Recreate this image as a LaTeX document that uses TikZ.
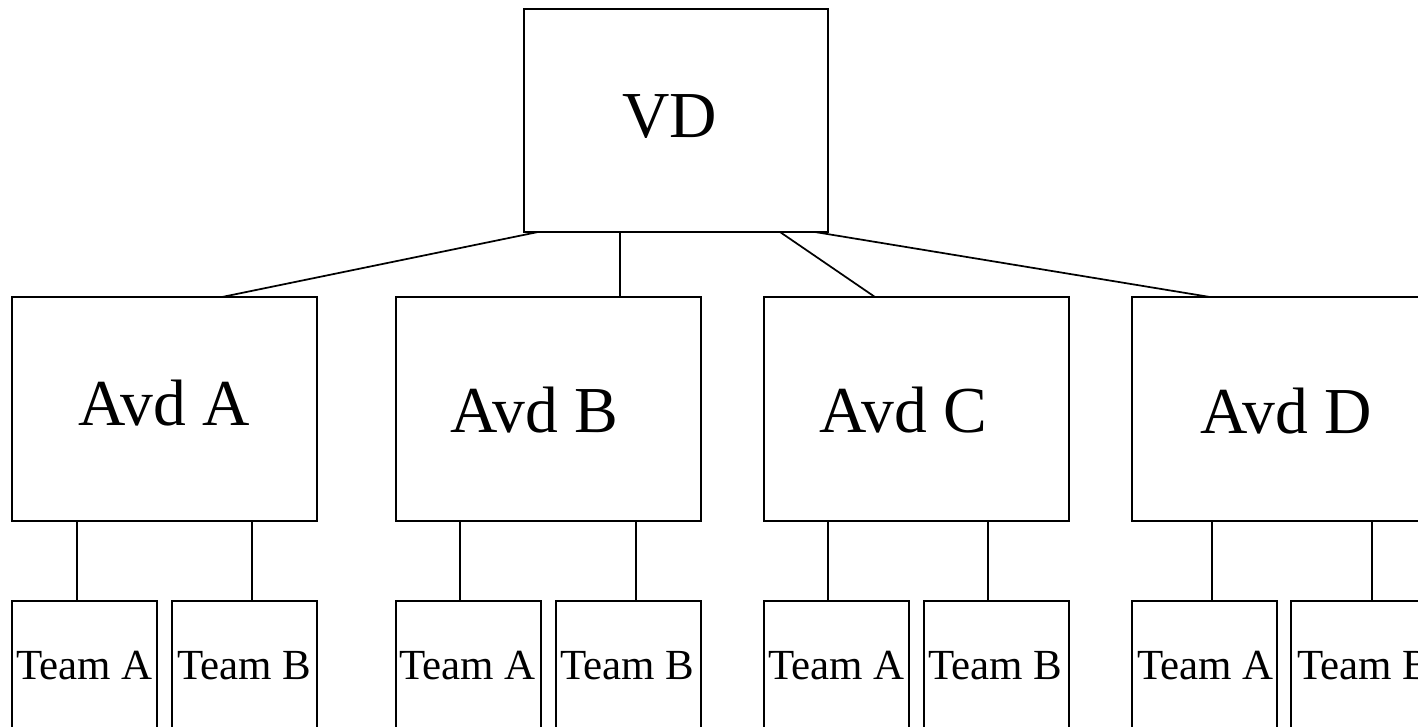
\documentclass[tikz,border=0pt]{standalone}
\usepackage{fontspec}
\setmainfont{Liberation Serif}
\usetikzlibrary{calc}

\tikzset{
  unit/.style={draw, line width=1.3pt, rectangle, inner sep=0pt, outer sep=0pt, anchor=north west},
  topbox/.style={unit, minimum width=228pt, minimum height=167.25pt},
  deptbox/.style={unit, minimum width=228.75pt, minimum height=168pt},
  teambox/.style={unit, minimum width=108.75pt, minimum height=97pt},
  bigtext/.style={anchor=base west, inner sep=0pt, font=\fontsize{49.2pt}{53pt}\selectfont},
  teamtext/.style={anchor=base west, inner sep=0pt, font=\fontsize{32.2pt}{35pt}\selectfont},
  link/.style={line width=1.3pt}
}

\begin{document}
\begin{tikzpicture}[x=0.75pt, y=-0.75pt]
\useasboundingbox (0,0) rectangle (1418,726);
\clip (0,0) rectangle (1418,726);

% Head of the organisation
\node[topbox] (vd) at (524,9) {};
\node[bigtext] (vdlabel) at (622,137) {VD};

% Departments
\node[deptbox] (avdA) at (12,297) {};
\node[deptbox] (avdB) at (396,297) {};
\node[deptbox] (avdC) at (764,297) {};
\node[deptbox] (avdD) at (1132,297) {};
\node[bigtext] (labA) at (78,425) {Avd A};
\node[bigtext] (labB) at (450,432) {Avd B};
\node[bigtext] (labC) at (819,432) {Avd C};
\node[bigtext] (labD) at (1200,433) {Avd D};

% Teams
\node[teambox] (tAA) at (12,601) {};
\node[teambox] (tAB) at (172,601) {};
\node[teambox] (tBA) at (396,601) {};
\node[teambox] (tBB) at (556,601) {};
\node[teambox] (tCA) at (764,601) {};
\node[teambox] (tCB) at (924,601) {};
\node[teambox] (tDA) at (1132,601) {};
\node[teambox] (tDB) at (1291,601) {};
\node[teamtext] (lAA) at (16,679) {Team A};
\node[teamtext] (lAB) at (177,679) {Team B};
\node[teamtext] (lBA) at (399,679) {Team A};
\node[teamtext] (lBB) at (560,679) {Team B};
\node[teamtext] (lCA) at (768,679) {Team A};
\node[teamtext] (lCB) at (928,679) {Team B};
\node[teamtext] (lDA) at (1137,679) {Team A};
\node[teamtext] (lDB) at (1297,679) {Team B};

% Links from the head to the departments
\draw[link] ($(vd.south west)+(14,0)$)  -- ($(avdA.north west)+(210,0)$);
\draw[link] ($(vd.south west)+(96,0)$)  -- ($(avdB.north west)+(224,0)$);
\draw[link] ($(vd.south west)+(256,0)$) -- ($(avdC.north west)+(111,0)$);
\draw[link] ($(vd.south west)+(291,0)$) -- ($(avdD.north west)+(78,0)$);

% Links from the departments to their teams
\draw[link] ($(avdA.south west)+(65,0)$)  coordinate (a1) -- (a1 |- tAA.north);
\draw[link] ($(avdA.south west)+(240,0)$) coordinate (a2) -- (a2 |- tAB.north);
\draw[link] ($(avdB.south west)+(64,0)$)  coordinate (b1) -- (b1 |- tBA.north);
\draw[link] ($(avdB.south west)+(240,0)$) coordinate (b2) -- (b2 |- tBB.north);
\draw[link] ($(avdC.south west)+(64,0)$)  coordinate (c1) -- (c1 |- tCA.north);
\draw[link] ($(avdC.south west)+(224,0)$) coordinate (c2) -- (c2 |- tCB.north);
\draw[link] ($(avdD.south west)+(80,0)$)  coordinate (d1) -- (d1 |- tDA.north);
\draw[link] ($(avdD.south west)+(240,0)$) coordinate (d2) -- (d2 |- tDB.north);
\end{tikzpicture}
\end{document}
